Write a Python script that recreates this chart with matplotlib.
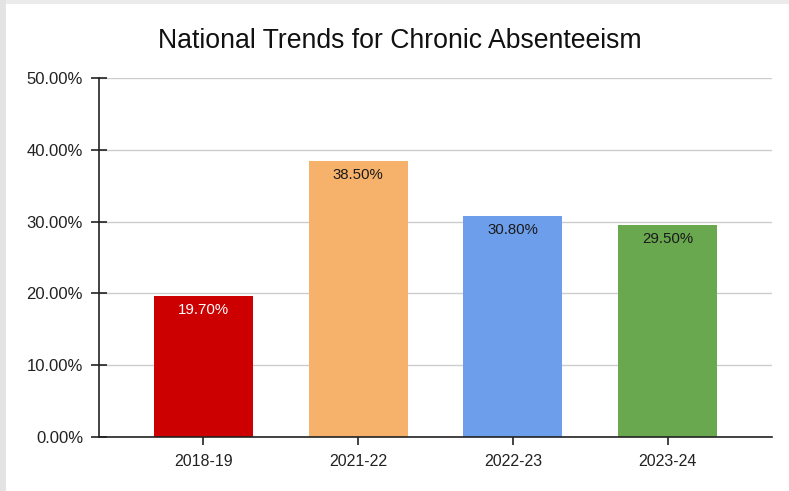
import matplotlib
matplotlib.use('Agg')
import matplotlib.pyplot as plt
from matplotlib.patches import Rectangle
from matplotlib.ticker import FuncFormatter

years = ['2018-19', '2021-22', '2022-23', '2023-24']
rates = [19.70, 38.50, 30.80, 29.50]
bar_colors = ['#cc0000', '#f6b26b', '#6d9eeb', '#6aa84f']
label_colors = ['white', '#1a1a1a', '#1a1a1a', '#1a1a1a']

plt.rcParams['font.family'] = ['Liberation Sans', 'DejaVu Sans']

fig = plt.figure(figsize=(7.89, 4.91), dpi=100)
W, H = 789, 491

# light grey frame strips along the top and left edge
fig.patches.append(Rectangle((0, 1 - 4 / H), 1, 4 / H, transform=fig.transFigure,
                             facecolor='#ebebeb', edgecolor='none', zorder=0))
fig.patches.append(Rectangle((0, 0), 6 / W, 1, transform=fig.transFigure,
                             facecolor='#e3e3e3', edgecolor='none', zorder=0))

ax = fig.add_axes([99 / W, (H - 437) / H, (772 - 99) / W, (437 - 78) / H])

x = range(len(years))
bars = ax.bar(x, rates, width=0.64, color=bar_colors, zorder=3)

for bar, val, c in zip(bars, rates, label_colors):
    ax.annotate(f'{val:.2f}%', (bar.get_x() + bar.get_width() / 2, val),
                xytext=(0, -14), textcoords='offset pixels',
                ha='center', va='center', fontsize=10.8, color=c, zorder=4)

ax.set_xlim(-0.674, 3.674)
ax.set_ylim(0, 50)
ax.set_yticks([0, 10, 20, 30, 40, 50])
ax.yaxis.set_major_formatter(FuncFormatter(lambda v, p: f'{v:.2f}%'))
ax.set_xticks(list(x))
ax.set_xticklabels(years)

ax.grid(axis='y', color='#cccccc', linewidth=1, zorder=0)
ax.set_axisbelow(True)
for side in ['top', 'right']:
    ax.spines[side].set_visible(False)
for side in ['left', 'bottom']:
    ax.spines[side].set_color('#222222')
    ax.spines[side].set_linewidth(1.2)
    ax.spines[side].set_zorder(5)

ax.tick_params(axis='y', direction='inout', length=11, width=1.2, color='#222222',
               labelsize=12, labelcolor='#222222', pad=6)
ax.tick_params(axis='x', direction='inout', length=12, width=1.2, color='#222222',
               labelsize=11.5, labelcolor='#222222', pad=6)

fig.text(400 / W, 1 - 41 / H, 'National Trends for Chronic Absenteeism',
         ha='center', va='center', fontsize=19.2, color='#111111')

fig.savefig('out.png', dpi=100)
